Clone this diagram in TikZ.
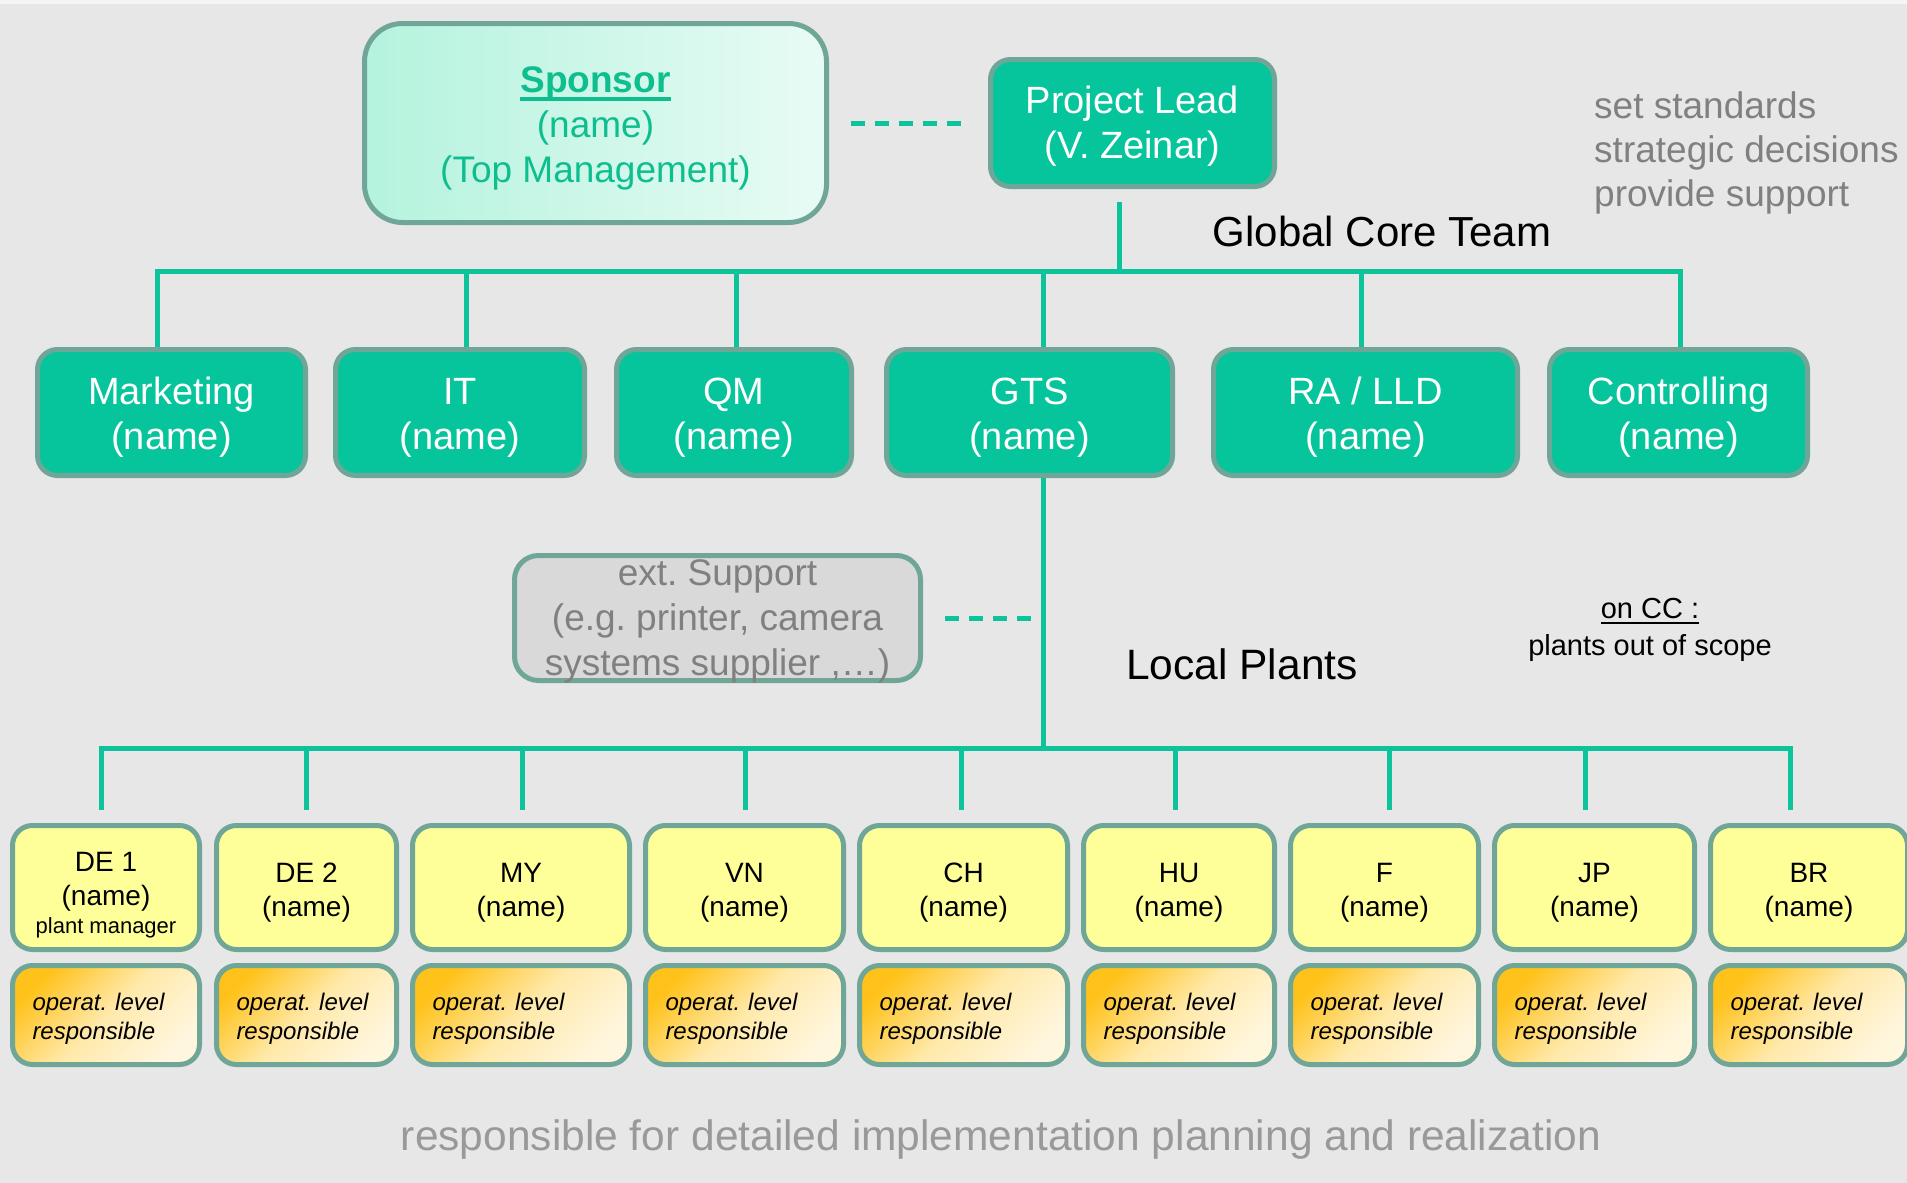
\documentclass[tikz,border=0pt]{standalone}
\usepackage{fontspec}
\setmainfont{Liberation Sans}
\definecolor{bgc}{HTML}{E7E7E7}
\definecolor{tealc}{HTML}{06C49B}
\definecolor{linec}{HTML}{0CC39B}
\definecolor{bordc}{HTML}{70A697}
\definecolor{sponc}{HTML}{0DBE8F}
\definecolor{spL}{HTML}{B4F3DD}
\definecolor{spR}{HTML}{E8FBF5}
\definecolor{yelc}{HTML}{FFFF99}
\definecolor{orA}{HTML}{FFC21A}
\definecolor{orM}{HTML}{FFE9AA}
\definecolor{orB}{HTML}{FFF6DE}
\definecolor{extc}{HTML}{D9D9D9}
\definecolor{grtxt}{HTML}{808080}
\definecolor{bottxt}{HTML}{999999}
\newcommand\myul[3]{\leavevmode\sbox0{#1}\rlap{\rule[-#3]{\wd0}{#2}}\usebox0}
\newcommand\tst[1]{\rule{0pt}{#1}}
\tikzset{
  topstrut/.style={execute at begin node={\rule{0pt}{#1}}},
  base/.style={rounded corners=20pt, draw=bordc, line width=5pt, inner sep=0pt, align=center},
  greenbox/.style={base, fill=tealc, text=white, font=\fontsize{38}{45}\selectfont},
  yelbox/.style={base, fill=yelc, text=black, minimum height=124pt, font=\fontsize{28}{34}\selectfont},
  orbox/.style={base, top color=orA, bottom color=orB, middle color=orM, shading angle=45,
     minimum height=99pt, inner xsep=20pt, align=left, text=black, font=\itshape\fontsize{24}{29}\selectfont, topstrut=24pt},
  conn/.style={draw=linec, line width=5pt},
  dashconn/.style={conn, dash pattern=on 14pt off 10pt},
}
\begin{document}
\frenchspacing
\begin{tikzpicture}[x=1pt,y=-1pt]
\useasboundingbox (0,0) rectangle (1907,1183);
\fill[bgc] (0,0) rectangle (1907,1183);
\fill[white!60!bgc] (0,0) rectangle (1907,4);

% top level
\node[base, rounded corners=38pt, left color=spL, right color=spR, text=sponc,
      minimum width=462pt, minimum height=199pt, font=\fontsize{37}{45}\selectfont]
  (spn) at (595.5,123) {\tst{37pt}{\bfseries\myul{Sponsor}{3.5pt}{8pt}}\\(name)\\(Top Management)};
\node[greenbox, minimum width=284pt, minimum height=127pt] (pl) at (1132.5,123) {\tst{34pt}Project Lead\\(V. Zeinar)};

\node[font=\fontsize{42}{48}\selectfont] (gct) at (1382,231) {Global Core Team};
\node[anchor=west, align=left, text=grtxt, inner sep=0pt, font=\fontsize{37}{44}\selectfont]
  (std) at (1594,153) {set standards\\strategic decisions\\provide support};

% core team
\node[greenbox, minimum width=268pt, minimum height=126pt] (mkt) at (171.5,412.5) {\tst{37pt}Marketing\\(name)};
\node[greenbox, minimum width=249pt, minimum height=126pt] (it) at (460,412.5) {\tst{37pt}IT\\(name)};
\node[greenbox, minimum width=235pt, minimum height=126pt] (qm) at (734,412.5) {\tst{37pt}QM\\(name)};
\node[greenbox, minimum width=286pt, minimum height=126pt] (gts) at (1029.5,412.5) {\tst{37pt}GTS\\(name)};
\node[greenbox, minimum width=304pt, minimum height=126pt] (ra) at (1365.5,412.5) {\tst{37pt}RA / LLD\\(name)};
\node[greenbox, minimum width=258pt, minimum height=126pt] (ctl) at (1678.5,412.5) {\tst{37pt}Controlling\\(name)};

% connectors top
\coordinate (ubL) at (157,271);
\coordinate (ubR) at (1680,271);
\coordinate (ubP) at (1119,271);
\draw[dashconn, shorten <=22pt, shorten >=21pt] (spn.east) -- (pl.west);
\draw[conn, shorten <=13pt] (ubP |- pl.south) -- (ubP);
\draw[conn, line cap=rect] (ubL) -- (ubR);
\draw[conn] (ubL) -- (ubL |- mkt.north);
\draw[conn] (466,271) -- (466,271 |- it.north);
\draw[conn] (736,271) -- (736,271 |- qm.north);
\draw[conn] (1043,271) -- (1043,271 |- gts.north);
\draw[conn] (1361,271) -- (1361,271 |- ra.north);
\draw[conn] (ubR) -- (ubR |- ctl.north);

% ext support
\node[base, rounded corners=24pt, fill=extc, text=grtxt, minimum width=406pt, minimum height=125pt,
      font=\fontsize{37}{45}\selectfont]
  (ext) at (717.5,618) {ext. Support\\(e.g. printer, camera\\\smash{systems supplier ,\dots)}};
\coordinate (lbG) at (1043,748);
\draw[conn] (lbG |- gts.south) -- (lbG);
\draw[dashconn, shorten <=22pt, shorten >=9pt] (ext.east) -- (lbG |- ext.east);

\node[font=\fontsize{42.5}{48}\selectfont] (lp) at (1242,664) {Local Plants};
\node[align=center, font=\fontsize{29}{37}\selectfont] (cc) at (1650,630) {\myul{on CC :}{2pt}{5pt}\\plants out of scope};

% plants
\node[yelbox, minimum width=187pt] (de1) at (106,887.5) {\tst{34pt}DE 1\\(name)\\[-6pt]{\fontsize{22}{24}\selectfont plant manager}};
\foreach \n/\c/\w/\t in {de2/306.5/180/DE 2, my/521/217/MY, vn/744.5/198/VN, ch/963.5/208/CH,
    hu/1179/191/HU, f/1384.5/188/F, jp/1594.5/200/JP, br/1809/197/BR}{
  \node[yelbox, minimum width=\w pt] (\n) at (\c,887.5) {\tst{30pt}\t\\(name)};
}
\foreach \n/\c/\w in {de1/106/187, de2/306.5/180, my/521/217, vn/744.5/198, ch/963.5/208,
    hu/1179/191, f/1384.5/188, jp/1594.5/200, br/1809/197}{
  \node[orbox, text width=\w pt-40pt] (o\n) at (\c,1015) {operat. level\\responsible};
}

\coordinate (lbL) at (101,748);
\coordinate (lbR) at (1790,748);
\draw[conn, line cap=rect] (lbL) -- (lbR);
\foreach \x/\n in {101/de1, 306/de2, 522/my, 745/vn, 961/ch, 1175/hu, 1389/f, 1585/jp, 1790/br}{
  \draw[conn, shorten >=13pt] (\x,748) -- (\x,748 |- \n.north);
}

\node[text=bottxt, font=\fontsize{42.5}{48}\selectfont] (bot) at (1001,1139)
  {responsible for detailed implementation planning and realization};
\end{tikzpicture}
\end{document}
